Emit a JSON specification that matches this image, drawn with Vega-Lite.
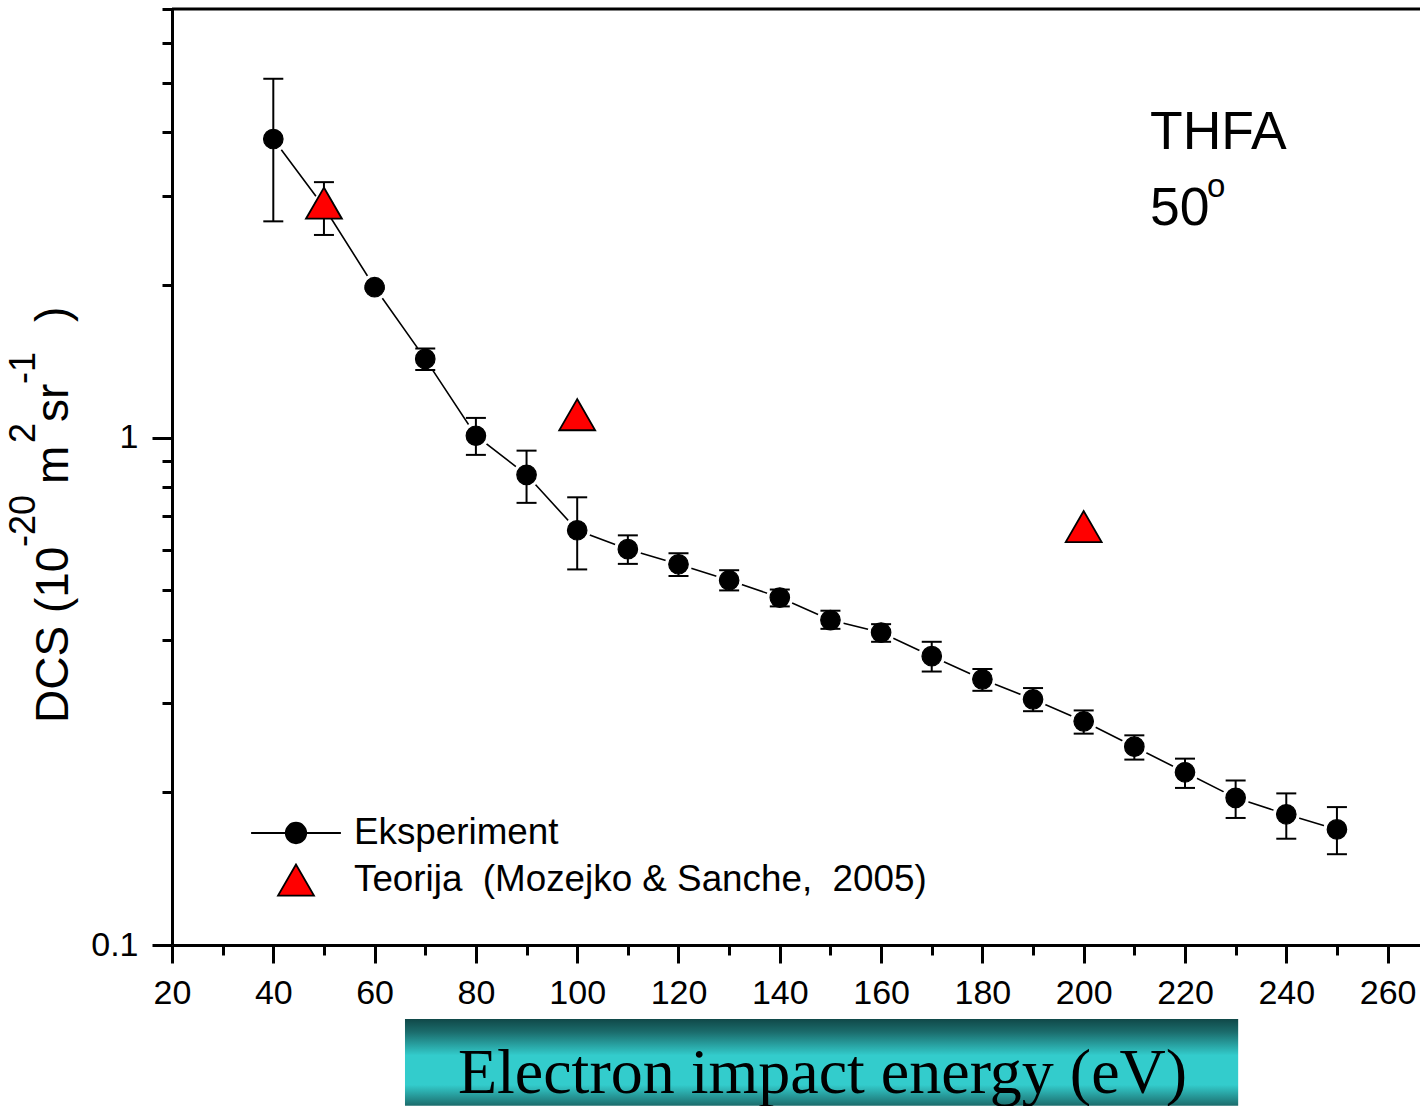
{
  "$schema": "https://vega.github.io/schema/vega-lite/v6.json",
  "width": 1248,
  "height": 936,
  "autosize": "none",
  "padding": {"left": 172, "top": 9, "right": 0, "bottom": 161},
  "background": "white",
  "config": {
    "view": {"stroke": null},
    "font": "Liberation Sans",
    "axis": {"grid": false}
  },
  "data": {
    "values": [
      {"E": 40, "dcs": 3.88, "lo": 2.67, "hi": 5.10, "series": "Eksperiment"},
      {"E": 50, "dcs": 2.85, "lo": 2.51, "hi": 3.19, "series": "Eksperiment"},
      {"E": 60, "dcs": 1.98, "lo": 1.965, "hi": 1.995, "series": "Eksperiment"},
      {"E": 70, "dcs": 1.43, "lo": 1.36, "hi": 1.50, "series": "Eksperiment"},
      {"E": 80, "dcs": 1.009, "lo": 0.925, "hi": 1.094, "series": "Eksperiment"},
      {"E": 90, "dcs": 0.845, "lo": 0.744, "hi": 0.943, "series": "Eksperiment"},
      {"E": 100, "dcs": 0.657, "lo": 0.550, "hi": 0.763, "series": "Eksperiment"},
      {"E": 110, "dcs": 0.603, "lo": 0.564, "hi": 0.642, "series": "Eksperiment"},
      {"E": 120, "dcs": 0.563, "lo": 0.534, "hi": 0.592, "series": "Eksperiment"},
      {"E": 130, "dcs": 0.5235, "lo": 0.500, "hi": 0.548, "series": "Eksperiment"},
      {"E": 140, "dcs": 0.484, "lo": 0.465, "hi": 0.502, "series": "Eksperiment"},
      {"E": 150, "dcs": 0.437, "lo": 0.420, "hi": 0.456, "series": "Eksperiment"},
      {"E": 160, "dcs": 0.413, "lo": 0.396, "hi": 0.429, "series": "Eksperiment"},
      {"E": 170, "dcs": 0.371, "lo": 0.346, "hi": 0.396, "series": "Eksperiment"},
      {"E": 180, "dcs": 0.334, "lo": 0.317, "hi": 0.350, "series": "Eksperiment"},
      {"E": 190, "dcs": 0.305, "lo": 0.289, "hi": 0.321, "series": "Eksperiment"},
      {"E": 200, "dcs": 0.276, "lo": 0.261, "hi": 0.290, "series": "Eksperiment"},
      {"E": 210, "dcs": 0.246, "lo": 0.232, "hi": 0.259, "series": "Eksperiment"},
      {"E": 220, "dcs": 0.219, "lo": 0.204, "hi": 0.233, "series": "Eksperiment"},
      {"E": 230, "dcs": 0.195, "lo": 0.178, "hi": 0.211, "series": "Eksperiment"},
      {"E": 240, "dcs": 0.181, "lo": 0.162, "hi": 0.199, "series": "Eksperiment"},
      {"E": 250, "dcs": 0.169, "lo": 0.151, "hi": 0.187, "series": "Eksperiment"},
      {"E": 50, "dcs": 2.90, "series": "Teorija\u00a0 (Mozejko & Sanche,\u00a0 2005)"},
      {"E": 100, "dcs": 1.11, "series": "Teorija\u00a0 (Mozejko & Sanche,\u00a0 2005)"},
      {"E": 200, "dcs": 0.668, "series": "Teorija\u00a0 (Mozejko & Sanche,\u00a0 2005)"}
    ]
  },
  "layer": [
    {
      "data": {"values": [{}]},
      "mark": {
        "type": "rect",
        "fill": {
          "gradient": "linear",
          "x1": 0, "y1": 0, "x2": 0, "y2": 1,
          "stops": [
            {"offset": 0, "color": "#104848"},
            {"offset": 0.15, "color": "#1b6c6c"},
            {"offset": 0.42, "color": "#33cccc"},
            {"offset": 0.76, "color": "#33cccc"},
            {"offset": 1, "color": "#1c6c6c"}
          ]
        }
      },
      "encoding": {
        "x": {"datum": 66.0, "type": "quantitative", "scale": {"domain": [20, 266.4], "nice": false, "zero": false}, "axis": null},
        "x2": {"datum": 230.5},
        "y": {"datum": 0.0715, "type": "quantitative", "scale": {"type": "log", "domain": [0.1, 7], "nice": false}, "axis": null},
        "y2": {"datum": 0.0482}
      }
    },
    {
      "transform": [{"filter": "datum.series === 'Eksperiment'"}],
      "mark": {"type": "line", "color": "black", "strokeWidth": 1.6},
      "encoding": {
        "x": {
          "field": "E", "type": "quantitative",
          "scale": {"domain": [20, 266.4], "nice": false, "zero": false},
          "axis": {
            "orient": "bottom", "zindex": 1,
            "values": [20, 40, 60, 80, 100, 120, 140, 160, 180, 200, 220, 240, 260],
            "domainColor": "black", "domainWidth": 3,
            "tickColor": "black", "tickWidth": 3, "tickSize": 18,
            "labelFont": "Liberation Sans", "labelFontSize": 34, "labelColor": "black",
            "labelPadding": 13, "labelFlush": false, "labelOverlap": false,
            "title": "Electron impact energy (eV)",
            "titleFont": "Liberation Serif", "titleFontSize": 64, "titleFontWeight": "normal",
            "titleColor": "black", "titleX": 650, "titleY": 147,
            "titleAlign": "center", "titleBaseline": "alphabetic"
          }
        },
        "y": {
          "field": "dcs", "type": "quantitative",
          "scale": {"type": "log", "domain": [0.1, 7], "nice": false},
          "axis": {
            "orient": "left", "zindex": 1,
            "values": [0.1, 1],
            "labelExpr": "datum.value < 0.5 ? '0.1' : '1'",
            "domainColor": "black", "domainWidth": 3,
            "tickColor": "black", "tickWidth": 3, "tickSize": 20,
            "labelFont": "Liberation Sans", "labelFontSize": 34, "labelColor": "black",
            "labelPadding": 14, "labelFlush": false, "labelOverlap": false,
            "title": null
          }
        }
      }
    },
    {
      "transform": [{"filter": "datum.series === 'Eksperiment'"}],
      "mark": {"type": "point", "filled": true, "shape": "circle", "color": "white", "opacity": 1, "size": 730},
      "encoding": {
        "x": {"field": "E", "type": "quantitative", "scale": {"domain": [20, 266.4], "nice": false, "zero": false}, "axis": null},
        "y": {"field": "dcs", "type": "quantitative", "scale": {"type": "log", "domain": [0.1, 7], "nice": false}, "axis": null}
      }
    },
    {
      "transform": [{"filter": "datum.series === 'Eksperiment'"}],
      "mark": {"type": "rule", "color": "black", "strokeWidth": 2},
      "encoding": {
        "x": {
          "field": "E", "type": "quantitative",
          "scale": {"domain": [20, 266.4], "nice": false, "zero": false},
          "axis": {
            "orient": "bottom", "zindex": 1,
            "values": [30, 50, 70, 90, 110, 130, 150, 170, 190, 210, 230, 250],
            "domain": false, "labels": false, "title": null,
            "tickColor": "black", "tickWidth": 3, "tickSize": 10
          }
        },
        "y": {
          "field": "lo", "type": "quantitative",
          "scale": {"type": "log", "domain": [0.1, 7], "nice": false},
          "axis": {
            "orient": "left", "zindex": 1,
            "values": [0.2, 0.3, 0.4, 0.5, 0.6, 0.7, 0.8, 0.9, 2, 3, 4, 5, 6, 7],
            "domain": false, "labels": false, "title": null,
            "tickColor": "black", "tickWidth": 3, "tickSize": 10
          }
        },
        "y2": {"field": "hi"}
      }
    },
    {
      "transform": [{"filter": "datum.series === 'Eksperiment'"}],
      "mark": {"type": "tick", "orient": "horizontal", "color": "black", "thickness": 2, "size": 20, "opacity": 1},
      "encoding": {
        "x": {"field": "E", "type": "quantitative", "scale": {"domain": [20, 266.4], "nice": false, "zero": false}, "axis": null},
        "y": {"field": "hi", "type": "quantitative", "scale": {"type": "log", "domain": [0.1, 7], "nice": false}, "axis": null}
      }
    },
    {
      "transform": [{"filter": "datum.series === 'Eksperiment'"}],
      "mark": {"type": "tick", "orient": "horizontal", "color": "black", "thickness": 2, "size": 20, "opacity": 1},
      "encoding": {
        "x": {"field": "E", "type": "quantitative", "scale": {"domain": [20, 266.4], "nice": false, "zero": false}, "axis": null},
        "y": {"field": "lo", "type": "quantitative", "scale": {"type": "log", "domain": [0.1, 7], "nice": false}, "axis": null}
      }
    },
    {
      "data": {"values": [{}]},
      "mark": {"type": "rule", "color": "black", "strokeWidth": 3},
      "encoding": {
        "y": {"datum": 7, "type": "quantitative", "scale": {"type": "log", "domain": [0.1, 7], "nice": false}, "axis": null}
      }
    },
    {
      "transform": [{"filter": "datum.series === 'Eksperiment'"}],
      "mark": {"type": "point", "filled": true, "shape": "circle", "color": "black", "stroke": "black", "strokeWidth": 1.2, "opacity": 1, "size": 380},
      "encoding": {
        "x": {"field": "E", "type": "quantitative", "scale": {"domain": [20, 266.4], "nice": false, "zero": false}, "axis": null},
        "y": {"field": "dcs", "type": "quantitative", "scale": {"type": "log", "domain": [0.1, 7], "nice": false}, "axis": null}
      }
    },
    {
      "transform": [{"filter": "datum.series !== 'Eksperiment'"}],
      "mark": {"type": "point", "filled": true, "opacity": 1, "stroke": "black", "size": 1290},
      "encoding": {
        "x": {"field": "E", "type": "quantitative", "scale": {"domain": [20, 266.4], "nice": false, "zero": false}, "axis": null},
        "y": {"field": "dcs", "type": "quantitative", "scale": {"type": "log", "domain": [0.1, 7], "nice": false}, "axis": null},
        "color": {
          "field": "series", "type": "nominal",
          "scale": {
            "domain": ["Eksperiment", "Teorija\u00a0 (Mozejko & Sanche,\u00a0 2005)"],
            "range": ["black", "#ff0000"]
          },
          "legend": {
            "title": null, "orient": "none", "legendX": 105, "legendY": 805,
            "padding": 0, "symbolOffset": 0, "symbolSize": 1290,
            "labelOffset": 39, "rowPadding": 8,
            "labelFont": "Liberation Sans", "labelFontSize": 36.8, "labelColor": "black",
            "labelLimit": 1000, "symbolStrokeColor": "black", "symbolStrokeWidth": 1.8,
            "symbolOpacity": 1
          }
        },
        "shape": {
          "field": "series", "type": "nominal",
          "scale": {
            "domain": ["Eksperiment", "Teorija\u00a0 (Mozejko & Sanche,\u00a0 2005)"],
            "range": ["M -2.5 0 L -0.57 0 M 0.57 0 L 2.5 0 M 0.57 0 A 0.57 0.57 0 1 1 -0.57 0 A 0.57 0.57 0 1 1 0.57 0 Z", "triangle-up"]
          },
          "legend": null
        },
        "strokeWidth": {"condition": {"test": "datum.series === 'Eksperiment'", "value": 1.6}, "value": 1.8}
      }
    },
    {
      "data": {"values": [{}]},
      "mark": {"type": "text", "text": "THFA", "align": "left", "baseline": "alphabetic", "font": "Liberation Sans", "fontSize": 53.5, "color": "black"},
      "encoding": {
        "x": {"datum": 213.1, "type": "quantitative", "scale": {"domain": [20, 266.4], "nice": false, "zero": false}, "axis": null},
        "y": {"datum": 3.708, "type": "quantitative", "scale": {"type": "log", "domain": [0.1, 7], "nice": false}, "axis": null}
      }
    },
    {
      "data": {"values": [{}]},
      "mark": {"type": "text", "text": "50", "align": "left", "baseline": "alphabetic", "font": "Liberation Sans", "fontSize": 53.5, "color": "black"},
      "encoding": {
        "x": {"datum": 213.1, "type": "quantitative", "scale": {"domain": [20, 266.4], "nice": false, "zero": false}, "axis": null},
        "y": {"datum": 2.6265, "type": "quantitative", "scale": {"type": "log", "domain": [0.1, 7], "nice": false}, "axis": null}
      }
    },
    {
      "data": {"values": [{}]},
      "mark": {"type": "text", "text": "o", "align": "left", "baseline": "alphabetic", "font": "Liberation Sans", "fontSize": 33, "color": "black"},
      "encoding": {
        "x": {"datum": 224.35, "type": "quantitative", "scale": {"domain": [20, 266.4], "nice": false, "zero": false}, "axis": null},
        "y": {"datum": 2.982, "type": "quantitative", "scale": {"type": "log", "domain": [0.1, 7], "nice": false}, "axis": null}
      }
    },
    {
      "data": {"values": [{}]},
      "mark": {"type": "text", "text": "DCS (10", "angle": 270, "align": "left", "baseline": "alphabetic", "font": "Liberation Sans", "fontSize": 46, "color": "black"},
      "encoding": {
        "x": {"datum": -0.53, "type": "quantitative", "scale": {"domain": [20, 266.4], "nice": false, "zero": false}, "axis": null},
        "y": {"datum": 0.27396, "type": "quantitative", "scale": {"type": "log", "domain": [0.1, 7], "nice": false}, "axis": null}
      }
    },
    {
      "data": {"values": [{}]},
      "mark": {"type": "text", "text": "-20", "angle": 270, "align": "left", "baseline": "alphabetic", "font": "Liberation Sans", "fontSize": 36, "color": "black"},
      "encoding": {
        "x": {"datum": -7.05, "type": "quantitative", "scale": {"domain": [20, 266.4], "nice": false, "zero": false}, "axis": null},
        "y": {"datum": 0.6088, "type": "quantitative", "scale": {"type": "log", "domain": [0.1, 7], "nice": false}, "axis": null}
      }
    },
    {
      "data": {"values": [{}]},
      "mark": {"type": "text", "text": "m", "angle": 270, "align": "left", "baseline": "alphabetic", "font": "Liberation Sans", "fontSize": 46, "color": "black"},
      "encoding": {
        "x": {"datum": -0.53, "type": "quantitative", "scale": {"domain": [20, 266.4], "nice": false, "zero": false}, "axis": null},
        "y": {"datum": 0.8103, "type": "quantitative", "scale": {"type": "log", "domain": [0.1, 7], "nice": false}, "axis": null}
      }
    },
    {
      "data": {"values": [{}]},
      "mark": {"type": "text", "text": "2", "angle": 270, "align": "left", "baseline": "alphabetic", "font": "Liberation Sans", "fontSize": 36, "color": "black"},
      "encoding": {
        "x": {"datum": -7.05, "type": "quantitative", "scale": {"domain": [20, 266.4], "nice": false, "zero": false}, "axis": null},
        "y": {"datum": 0.97632, "type": "quantitative", "scale": {"type": "log", "domain": [0.1, 7], "nice": false}, "axis": null}
      }
    },
    {
      "data": {"values": [{}]},
      "mark": {"type": "text", "text": "sr", "angle": 270, "align": "left", "baseline": "alphabetic", "font": "Liberation Sans", "fontSize": 46, "color": "black"},
      "encoding": {
        "x": {"datum": -0.53, "type": "quantitative", "scale": {"domain": [20, 266.4], "nice": false, "zero": false}, "axis": null},
        "y": {"datum": 1.0740, "type": "quantitative", "scale": {"type": "log", "domain": [0.1, 7], "nice": false}, "axis": null}
      }
    },
    {
      "data": {"values": [{}]},
      "mark": {"type": "text", "text": "-1", "angle": 270, "align": "left", "baseline": "alphabetic", "font": "Liberation Sans", "fontSize": 36, "color": "black"},
      "encoding": {
        "x": {"datum": -7.05, "type": "quantitative", "scale": {"domain": [20, 266.4], "nice": false, "zero": false}, "axis": null},
        "y": {"datum": 1.2759, "type": "quantitative", "scale": {"type": "log", "domain": [0.1, 7], "nice": false}, "axis": null}
      }
    },
    {
      "data": {"values": [{}]},
      "mark": {"type": "text", "text": ")", "angle": 270, "align": "left", "baseline": "alphabetic", "font": "Liberation Sans", "fontSize": 46, "color": "black"},
      "encoding": {
        "x": {"datum": -0.53, "type": "quantitative", "scale": {"domain": [20, 266.4], "nice": false, "zero": false}, "axis": null},
        "y": {"datum": 1.6906, "type": "quantitative", "scale": {"type": "log", "domain": [0.1, 7], "nice": false}, "axis": null}
      }
    }
  ],
  "resolve": {"axis": {"x": "independent", "y": "independent"}}
}
